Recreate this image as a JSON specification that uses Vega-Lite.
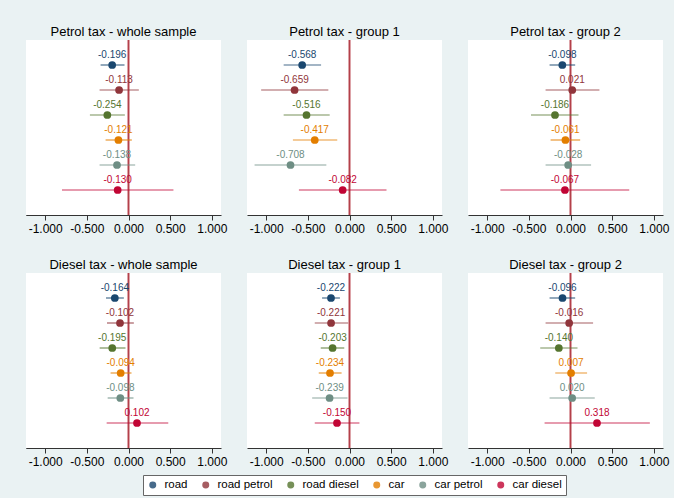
{
  "$schema": "https://vega.github.io/schema/vega-lite/v6.json",
  "background": "#EAF2F3",
  "padding": {"left": 26, "top": 26, "right": 5, "bottom": 5},
  "data": {"values": [
    {"panel": "Petrol tax - whole sample", "var": "road", "coef": -0.196, "lo": -0.335, "hi": -0.048, "label": "-0.196"},
    {"panel": "Petrol tax - whole sample", "var": "road petrol", "coef": -0.113, "lo": -0.347, "hi": 0.124, "label": "-0.113"},
    {"panel": "Petrol tax - whole sample", "var": "road diesel", "coef": -0.254, "lo": -0.463, "hi": -0.044, "label": "-0.254"},
    {"panel": "Petrol tax - whole sample", "var": "car", "coef": -0.121, "lo": -0.275, "hi": 0.04, "label": "-0.121"},
    {"panel": "Petrol tax - whole sample", "var": "car petrol", "coef": -0.138, "lo": -0.347, "hi": 0.08, "label": "-0.138"},
    {"panel": "Petrol tax - whole sample", "var": "car diesel", "coef": -0.13, "lo": -0.798, "hi": 0.539, "label": "-0.130"},
    {"panel": "Petrol tax - group 1", "var": "road", "coef": -0.568, "lo": -0.79, "hi": -0.341, "label": "-0.568"},
    {"panel": "Petrol tax - group 1", "var": "road petrol", "coef": -0.659, "lo": -1.06, "hi": -0.254, "label": "-0.659"},
    {"panel": "Petrol tax - group 1", "var": "road diesel", "coef": -0.516, "lo": -0.79, "hi": -0.238, "label": "-0.516"},
    {"panel": "Petrol tax - group 1", "var": "car", "coef": -0.417, "lo": -0.679, "hi": -0.147, "label": "-0.417"},
    {"panel": "Petrol tax - group 1", "var": "car petrol", "coef": -0.708, "lo": -1.139, "hi": -0.278, "label": "-0.708"},
    {"panel": "Petrol tax - group 1", "var": "car diesel", "coef": -0.082, "lo": -0.607, "hi": 0.444, "label": "-0.082"},
    {"panel": "Petrol tax - group 2", "var": "road", "coef": -0.098, "lo": -0.251, "hi": 0.056, "label": "-0.098"},
    {"panel": "Petrol tax - group 2", "var": "road petrol", "coef": 0.021, "lo": -0.299, "hi": 0.347, "label": "0.021"},
    {"panel": "Petrol tax - group 2", "var": "road diesel", "coef": -0.186, "lo": -0.474, "hi": 0.096, "label": "-0.186"},
    {"panel": "Petrol tax - group 2", "var": "car", "coef": -0.061, "lo": -0.239, "hi": 0.116, "label": "-0.061"},
    {"panel": "Petrol tax - group 2", "var": "car petrol", "coef": -0.028, "lo": -0.299, "hi": 0.247, "label": "-0.028"},
    {"panel": "Petrol tax - group 2", "var": "car diesel", "coef": -0.067, "lo": -0.841, "hi": 0.705, "label": "-0.067"},
    {"panel": "Diesel tax - whole sample", "var": "road", "coef": -0.164, "lo": -0.27, "hi": -0.056, "label": "-0.164"},
    {"panel": "Diesel tax - whole sample", "var": "road petrol", "coef": -0.102, "lo": -0.258, "hi": 0.064, "label": "-0.102"},
    {"panel": "Diesel tax - whole sample", "var": "road diesel", "coef": -0.195, "lo": -0.346, "hi": -0.036, "label": "-0.195"},
    {"panel": "Diesel tax - whole sample", "var": "car", "coef": -0.094, "lo": -0.215, "hi": 0.036, "label": "-0.094"},
    {"panel": "Diesel tax - whole sample", "var": "car petrol", "coef": -0.098, "lo": -0.25, "hi": 0.06, "label": "-0.098"},
    {"panel": "Diesel tax - whole sample", "var": "car diesel", "coef": 0.102, "lo": -0.262, "hi": 0.477, "label": "0.102"},
    {"panel": "Diesel tax - group 1", "var": "road", "coef": -0.222, "lo": -0.329, "hi": -0.115, "label": "-0.222"},
    {"panel": "Diesel tax - group 1", "var": "road petrol", "coef": -0.221, "lo": -0.417, "hi": -0.016, "label": "-0.221"},
    {"panel": "Diesel tax - group 1", "var": "road diesel", "coef": -0.203, "lo": -0.345, "hi": -0.063, "label": "-0.203"},
    {"panel": "Diesel tax - group 1", "var": "car", "coef": -0.234, "lo": -0.369, "hi": -0.095, "label": "-0.234"},
    {"panel": "Diesel tax - group 1", "var": "car petrol", "coef": -0.239, "lo": -0.448, "hi": -0.024, "label": "-0.239"},
    {"panel": "Diesel tax - group 1", "var": "car diesel", "coef": -0.15, "lo": -0.417, "hi": 0.119, "label": "-0.150"},
    {"panel": "Diesel tax - group 2", "var": "road", "coef": -0.096, "lo": -0.251, "hi": 0.056, "label": "-0.096"},
    {"panel": "Diesel tax - group 2", "var": "road petrol", "coef": -0.016, "lo": -0.299, "hi": 0.271, "label": "-0.016"},
    {"panel": "Diesel tax - group 2", "var": "road diesel", "coef": -0.14, "lo": -0.363, "hi": 0.084, "label": "-0.140"},
    {"panel": "Diesel tax - group 2", "var": "car", "coef": 0.007, "lo": -0.183, "hi": 0.199, "label": "0.007"},
    {"panel": "Diesel tax - group 2", "var": "car petrol", "coef": 0.02, "lo": -0.251, "hi": 0.291, "label": "0.020"},
    {"panel": "Diesel tax - group 2", "var": "car diesel", "coef": 0.318, "lo": -0.311, "hi": 0.952, "label": "0.318"}
  ]},
  "facet": {
    "field": "panel",
    "type": "nominal",
    "sort": ["Petrol tax - whole sample", "Petrol tax - group 1", "Petrol tax - group 2", "Diesel tax - whole sample", "Diesel tax - group 1", "Diesel tax - group 2"],
    "header": {"title": null, "labelFontSize": 13, "labelFont": "Liberation Sans", "labelColor": "#000", "labelPadding": 0}
  },
  "columns": 3,
  "spacing": {"column": 20, "row": 25},
  "resolve": {"axis": {"x": "independent"}},
  "spec": {
    "width": 195,
    "height": 175,
    "encoding": {
      "y": {"field": "var", "type": "nominal", "sort": ["road", "road petrol", "road diesel", "car", "car petrol", "car diesel"],
            "scale": {"type": "point", "padding": 1},
            "axis": {"title": null, "labels": false, "ticks": false, "grid": false, "domainColor": "#333"}},
      "color": {"field": "var", "type": "nominal", "sort": ["road", "road petrol", "road diesel", "car", "car petrol", "car diesel"],
                "scale": {"domain": ["road", "road petrol", "road diesel", "car", "car petrol", "car diesel"],
                          "range": ["#1a476f", "#90353b", "#55752f", "#e37e00", "#6e8e84", "#c10534"]},
                "legend": {"title": null, "orient": "none", "legendX": 117, "legendY": 435, "direction": "horizontal",
                           "symbolType": "circle", "symbolSize": 30, "labelFontSize": 11.5, "labelFont": "Liberation Sans",
                           "strokeColor": "#666", "fillColor": "#ffffff", "padding": 4, "columnPadding": 12, "labelOffset": 6}}
    },
    "layer": [
      {"mark": {"type": "rule", "color": "#b3404a", "strokeWidth": 1.2}, "encoding": {"x": {"datum": 0, "type": "quantitative"}, "y": null, "color": null}},
      {"mark": {"type": "rule", "strokeWidth": 1.2, "opacity": 0.8},
       "encoding": {"x": {"field": "lo", "type": "quantitative",
                          "scale": {"domain": [-1.23, 1.11], "nice": false, "zero": false},
                          "axis": {"title": null, "values": [-1, -0.5, 0, 0.5, 1], "format": ".3f", "grid": false, "labelFontSize": 12, "labelFont": "Liberation Sans", "labelColor": "#000", "domainColor": "#333", "tickColor": "#333", "tickSize": 5, "labelPadding": 3}},
                    "x2": {"field": "hi"}}},
      {"mark": {"type": "point", "filled": true, "size": 60, "opacity": 1}, "encoding": {"x": {"field": "coef", "type": "quantitative"}}},
      {"mark": {"type": "text", "dy": -10, "fontSize": 10, "font": "Liberation Sans"}, "encoding": {"x": {"field": "coef", "type": "quantitative"}, "text": {"field": "label"}}}
    ]
  },
  "config": {
    "view": {"fill": "white", "stroke": null},
    "locale": {"number": {"decimal": ".", "thousands": ",", "grouping": [3], "currency": ["$", ""], "minus": "-"}}
  }
}
